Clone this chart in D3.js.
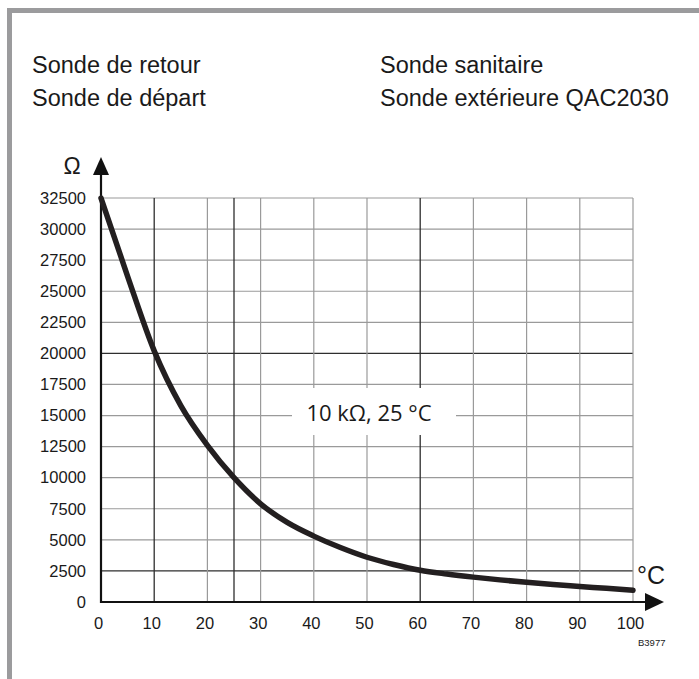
<!DOCTYPE html>
<html>
<head>
<meta charset="utf-8">
<script src="https://cdn.jsdelivr.net/npm/d3@7"></script>
<style>
  html, body { margin: 0; padding: 0; background: #fff; }
  svg { display: block; }
  text { font-family: "Liberation Sans", Arial, sans-serif; fill: #1a1a1a; }
</style>
</head>
<body>
<svg id="chart" width="699" height="679"></svg>
<script>
// NTC sensor characteristic: resistance (Ω) against temperature (°C)
const temps = [0, 5, 10, 15, 20, 25, 30, 35, 40, 45, 50, 55, 60, 65, 70, 75, 80, 85, 90, 95, 100];
const ohms  = [32500, 26200, 20200, 15800, 12600, 10000, 7900, 6400, 5300, 4380, 3600, 3020, 2550, 2250, 2000, 1780, 1580, 1400, 1250, 1100, 950];

const xTicks = [0, 10, 20, 30, 40, 50, 60, 70, 80, 90, 100];
const yTicks = [0, 2500, 5000, 7500, 10000, 12500, 15000, 17500, 20000, 22500, 25000, 27500, 30000, 32500];
const xGridValues = [10, 20, 25, 30, 40, 50, 60, 70, 80, 90, 100];
const xGridStrong = [10, 25, 60];
const yGridStrong = [2500, 20000];

const sensorNames = [["Sonde de retour", "Sonde de départ"], ["Sonde sanitaire", "Sonde extérieure QAC2030"]];
const refLabel = "10 kΩ, 25 °C";

const svg = d3.select("#chart");

// outer frame
svg.append("rect")
  .attr("x", 9.5).attr("y", 10.5)
  .attr("width", 760).attr("height", 760)
  .attr("fill", "none").attr("stroke", "#9b9b9d").attr("stroke-width", 5);

// sensor names
sensorNames.forEach((col, i) => {
  col.forEach((name, j) => {
    svg.append("text")
      .attr("x", i === 0 ? 32 : 380)
      .attr("y", 72.5 + j * 33)
      .attr("font-size", 23.5)
      .text(name);
  });
});

const x = d3.scaleLinear().domain([0, 100]).range([101, 633]);
const y = d3.scaleLinear().domain([0, 32500]).range([602, 198]);

// grid
const grid = svg.append("g");
grid.selectAll("line.h")
  .data(yTicks.filter(d => d > 0))
  .join("line")
  .attr("x1", x(0)).attr("x2", x(100))
  .attr("y1", d => y(d)).attr("y2", d => y(d))
  .attr("stroke", d => yGridStrong.includes(d) ? "#2e2e2e" : "#9a9a9a")
  .attr("stroke-width", d => yGridStrong.includes(d) ? 1.3 : 1.2);
grid.selectAll("line.v")
  .data(xGridValues)
  .join("line")
  .attr("y1", y(0)).attr("y2", y(32500))
  .attr("x1", d => x(d)).attr("x2", d => x(d))
  .attr("stroke", d => xGridStrong.includes(d) ? "#2e2e2e" : "#9a9a9a")
  .attr("stroke-width", d => xGridStrong.includes(d) ? 1.3 : 1.2);

// reference label box
svg.append("rect")
  .attr("x", 292).attr("y", 388).attr("width", 164).attr("height", 47)
  .attr("fill", "#fff");
svg.append("text")
  .attr("x", 369).attr("y", 421)
  .attr("text-anchor", "middle")
  .style("font-family", "'Open Sans', 'Noto Sans', sans-serif")
  .attr("font-size", 22)
  .text(refLabel);

// axes lines with arrows
svg.append("line")
  .attr("x1", x(0)).attr("x2", x(0)).attr("y1", y(0) + 1).attr("y2", 172)
  .attr("stroke", "#111").attr("stroke-width", 2.2);
svg.append("path")
  .attr("d", `M${x(0) - 8},175 L${x(0)},157 L${x(0) + 8},175 Z`)
  .attr("fill", "#111");
svg.append("line")
  .attr("x1", x(0) - 1).attr("x2", 648).attr("y1", y(0)).attr("y2", y(0))
  .attr("stroke", "#111").attr("stroke-width", 2.2);
svg.append("path")
  .attr("d", `M645,${y(0) - 9} L664,${y(0)} L645,${y(0) + 9} Z`)
  .attr("fill", "#111");

// tick labels
const yAxis = svg.append("g")
  .attr("transform", `translate(${x(0)},0)`)
  .call(d3.axisLeft(y).tickValues(yTicks).tickSize(0).tickPadding(15).tickFormat(d3.format("d")));
yAxis.select(".domain").remove();
yAxis.selectAll("text")
  .attr("font-size", 16.5)
  .style("font-family", "'Liberation Sans', Arial, sans-serif")
  .attr("fill", "#1a1a1a");

const xAxis = svg.append("g")
  .attr("transform", `translate(0,${y(0)})`)
  .call(d3.axisBottom(x).tickValues(xTicks).tickSize(0).tickPadding(15).tickFormat(d3.format("d")));
xAxis.select(".domain").remove();
xAxis.selectAll("text")
  .attr("font-size", 16.5)
  .attr("dx", "-0.18em")
  .style("font-family", "'Liberation Sans', Arial, sans-serif")
  .attr("fill", "#1a1a1a");

// axis units
svg.append("text")
  .attr("x", 72).attr("y", 174)
  .attr("text-anchor", "middle")
  .attr("font-size", 23)
  .text("Ω");
svg.append("text")
  .attr("x", 637).attr("y", 584)
  .attr("font-size", 25)
  .text("°C");
svg.append("text")
  .attr("x", 638).attr("y", 646)
  .attr("font-size", 9.5)
  .text("B3977");

// characteristic curve
const line = d3.line()
  .x((d, i) => x(temps[i]))
  .y(d => y(d))
  .curve(d3.curveMonotoneX);
svg.append("path")
  .attr("d", line(ohms))
  .attr("fill", "none")
  .attr("stroke", "#231f20")
  .attr("stroke-width", 5.5)
  .attr("stroke-linecap", "round")
  .attr("stroke-linejoin", "round");
</script>
</body>
</html>
